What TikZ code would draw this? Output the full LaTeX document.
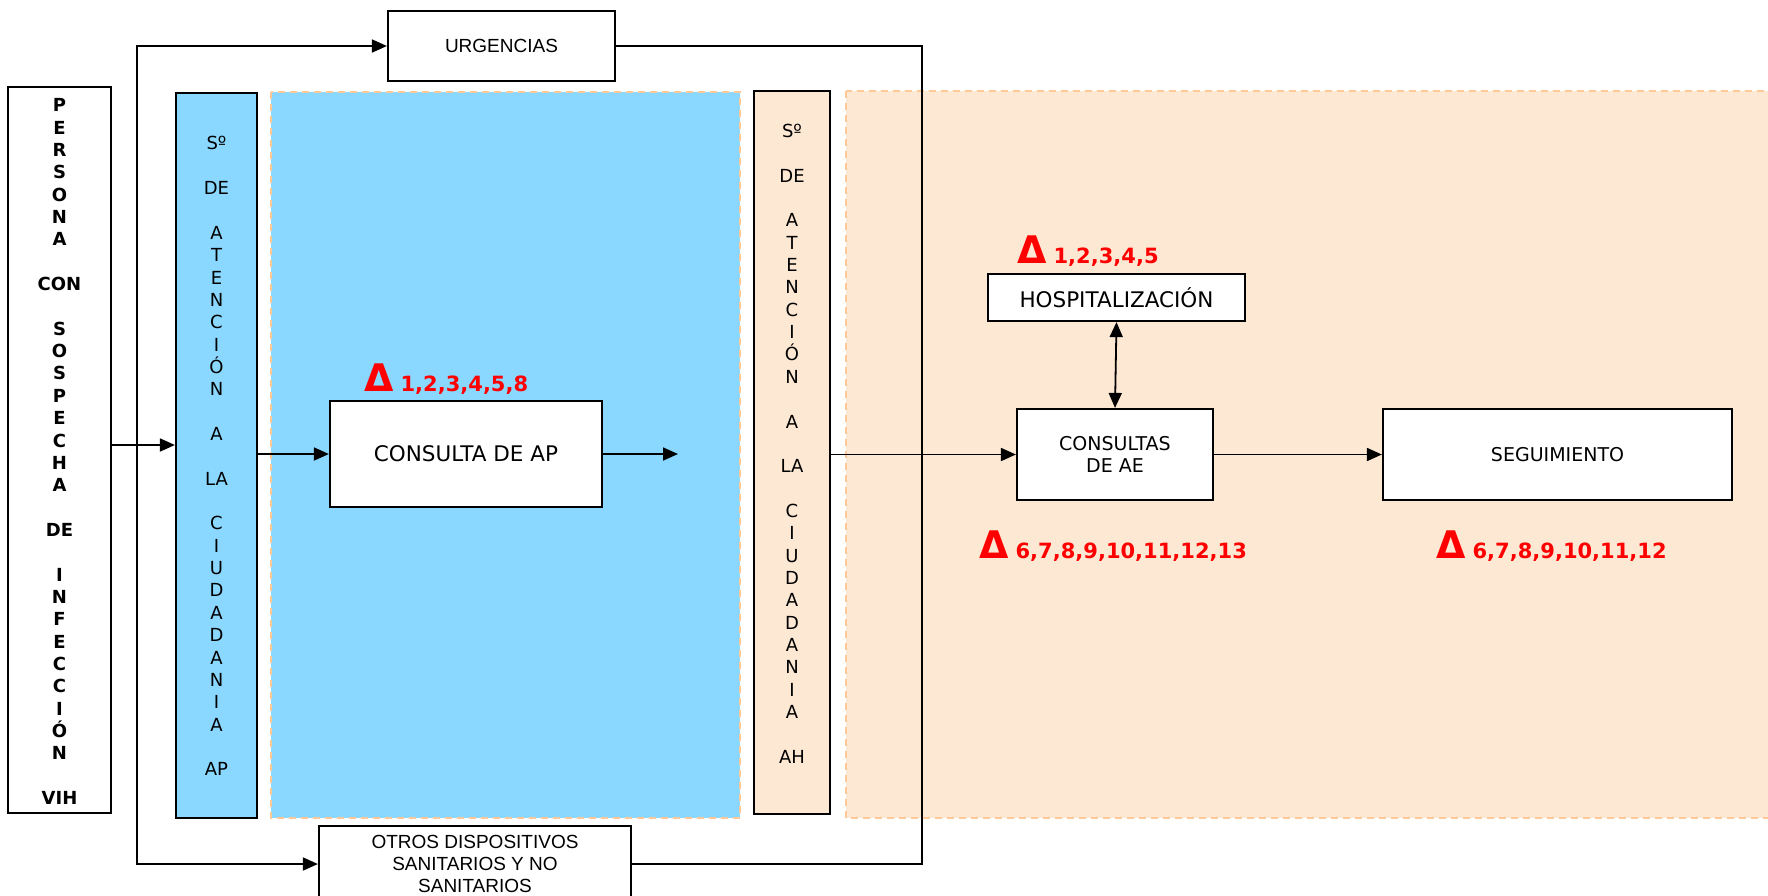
\documentclass[tikz,border=0pt]{standalone}
\usepackage{fontspec}
\setmainfont{DejaVu Sans}
\newfontfamily\arialfont{Liberation Sans}
\usetikzlibrary{arrows.meta,calc}
\definecolor{apblue}{RGB}{138,216,255}
\definecolor{ahpeach}{RGB}{253,233,211}
\definecolor{zoneedge}{RGB}{255,200,150}
\definecolor{deltared}{RGB}{255,0,0}

\begin{document}
\begin{tikzpicture}[x=1pt,y=-1pt,
  box/.style={draw=black, line width=2.2pt, fill=white, inner sep=0pt, align=center},
  zone/.style={draw=zoneedge, line width=2pt, dash pattern=on 7pt off 5pt},
  conn/.style={line width=1.8pt, -{Triangle[length=15pt,width=13pt]}},
  biconn/.style={line width=1.8pt, {Triangle[length=15pt,width=13pt]}-{Triangle[length=15pt,width=13pt]}},
  plain/.style={line width=1.8pt},
  vtext/.style={align=center, inner sep=0pt},
  dlabel/.style={anchor=base west, inner sep=0pt, text=deltared}
]
\clip (0,0) rectangle (1768,895);
\fill[white] (0,0) rectangle (1768,895);

% shaded areas for primary care and hospital care
\draw[zone, fill=apblue] (271,92) rectangle (740,818);
\draw[zone, fill=ahpeach] (846,91) rectangle (1790,818);

% vertical column boxes
\node[box, minimum width=103pt, minimum height=726pt] (persona) at (59.5,450) {};
\node[vtext, font=\bfseries\fontsize{18}{22.35}\selectfont] (personatext) at (59.5,451.6)
  {P\\E\\R\\S\\O\\N\\A\\[22.35pt]CON\\[22.35pt]S\\O\\S\\P\\E\\C\\H\\A\\[22.35pt]DE\\[22.35pt]I\\N\\F\\E\\C\\C\\I\\Ó\\N\\[22.35pt]VIH};

\node[box, fill=apblue, minimum width=81pt, minimum height=725pt] (sap) at (216.5,455.5) {};
\node[vtext, font=\fontsize{18}{22.35}\selectfont] (saptext) at (216.5,456.2)
  {Sº\\[22.35pt]DE\\[22.35pt]A\\T\\E\\N\\C\\I\\Ó\\N\\[22.35pt]A\\[22.35pt]LA\\[22.35pt]C\\I\\U\\D\\A\\D\\A\\N\\I\\A\\[22.35pt]AP};

\node[box, fill=ahpeach, minimum width=76pt, minimum height=723pt] (sah) at (792,452.5) {};
\node[vtext, font=\fontsize{18}{22.35}\selectfont] (sahtext) at (792,443.7)
  {Sº\\[22.35pt]DE\\[22.35pt]A\\T\\E\\N\\C\\I\\Ó\\N\\[22.35pt]A\\[22.35pt]LA\\[22.35pt]C\\I\\U\\D\\A\\D\\A\\N\\I\\A\\[22.35pt]AH};

% process boxes
\node[box, minimum width=227pt, minimum height=70pt, font=\arialfont\fontsize{19}{22}\selectfont] (urg) at (501.5,46) {URGENCIAS};
\node[box, minimum width=312pt, minimum height=76pt, font=\arialfont\fontsize{19}{22}\selectfont] (otros) at (475,864)
  {OTROS DISPOSITIVOS\\SANITARIOS Y NO\\SANITARIOS};
\node[box, minimum width=272pt, minimum height=106pt, font=\fontsize{21.5}{24}\selectfont] (ap) at (466,454) {CONSULTA DE AP};
\node[box, minimum width=257pt, minimum height=47pt, font=\fontsize{21.5}{24}\selectfont] (hosp) at (1116.5,297.5) {HOSPITALIZACIÓN};
\node[box, minimum width=196pt, minimum height=91pt, font=\fontsize{19}{21.4}\selectfont] (cae) at (1115,454.5) {CONSULTAS\\DE AE};
\node[box, minimum width=349pt, minimum height=91pt, font=\fontsize{19}{22}\selectfont] (seg) at (1557.5,454.5) {SEGUIMIENTO};

% indicator labels
\node[dlabel] (d1) at (364,391) {\fontsize{38}{38}\selectfont\bfseries Δ\hspace{7pt}\fontsize{21}{21}\selectfont 1,2,3,4,5,8};
\node[dlabel] (d2) at (1017,263) {\fontsize{38}{38}\selectfont\bfseries Δ\hspace{7pt}\fontsize{21}{21}\selectfont 1,2,3,4,5};
\node[dlabel] (d3) at (979,558) {\fontsize{38}{38}\selectfont\bfseries Δ\hspace{7pt}\fontsize{21}{21}\selectfont 6,7,8,9,10,11,12,13};
\node[dlabel] (d4) at (1436,558) {\fontsize{38}{38}\selectfont\bfseries Δ\hspace{7pt}\fontsize{21}{21}\selectfont 6,7,8,9,10,11,12};

% connectors
\coordinate (lt) at (137,47);
\coordinate (rt) at (922,46);
\coordinate (apend) at (678,454);
\path ($(persona.east)+(0,-5)$) coordinate (pe);

\draw[conn] (pe) -- (pe -| sap.west);
\draw[biconn] (urg.west) -- (urg.west -| lt) -- (lt |- otros.west) -- (otros.west);
\draw[plain] (urg.east) -- (urg.east -| rt) -- (rt |- otros.east) -- (otros.east);
\draw[conn] (ap.west -| sap.east) -- (ap.west);
\draw[conn] (ap.east) -- (apend);
\draw[conn] (cae.west -| sah.east) -- (cae.west);
\draw[biconn] (hosp.south) -- (cae.north);
\draw[conn] (cae.east) -- (seg.west);
\end{tikzpicture}
\end{document}
